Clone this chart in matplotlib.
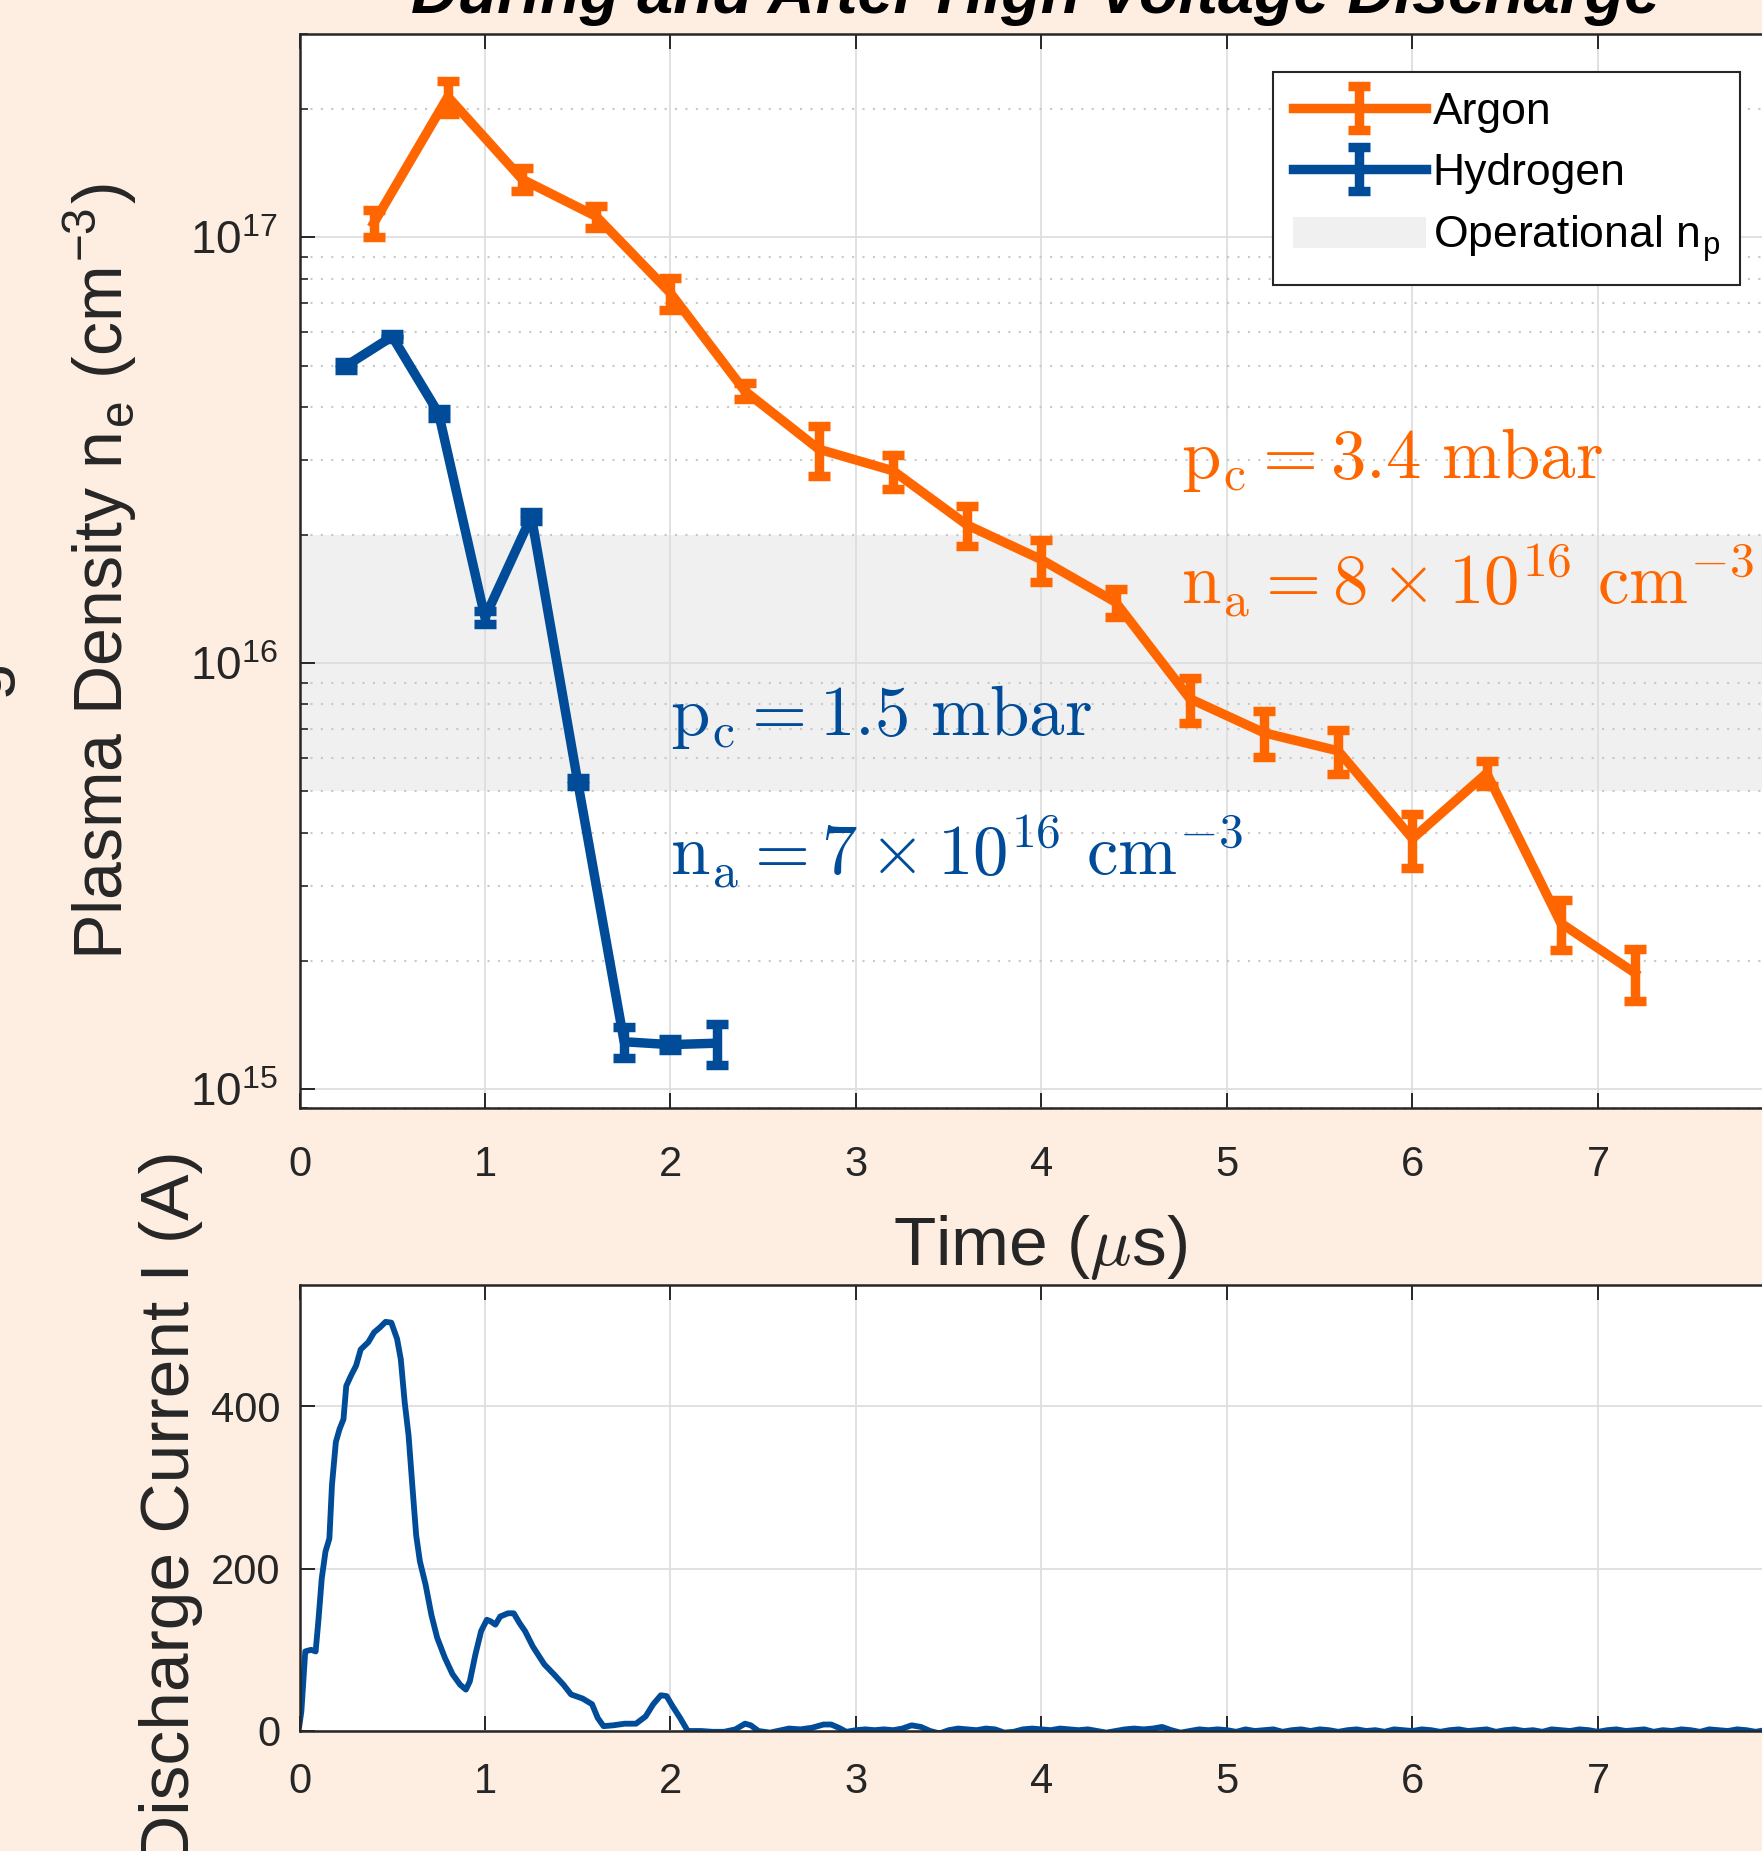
import numpy as np
import matplotlib
matplotlib.use('Agg')
import matplotlib.pyplot as plt
from matplotlib.ticker import LogLocator, NullFormatter

plt.rcParams['font.family'] = ['Liberation Sans', 'DejaVu Sans']
plt.rcParams['mathtext.fontset'] = 'cm'

# Argon density (cm^-3) with error bars
ar_t = [0.4, 0.8, 1.2, 1.6, 2.0, 2.4, 2.8, 3.2, 3.6, 4.0, 4.4, 4.8, 5.2, 5.6, 6.0, 6.4, 6.8, 7.2]
ar_n = [1.08e17, 2.14e17, 1.37e17, 1.12e17, 7.40e16, 4.36e16, 3.18e16, 2.83e16, 2.11e16,
        1.75e16, 1.39e16, 8.25e15, 6.86e15, 6.22e15, 3.87e15, 5.51e15, 2.45e15, 1.87e15]
ar_err = [7.7e15, 1.9e16, 8.6e15, 6.7e15, 6.3e15, 1.8e15, 4.3e15, 2.6e15, 2.3e15,
          2.0e15, 1.04e15, 1.0e15, 8.5e14, 7.3e14, 5.6e14, 3.7e14, 3.3e14, 2.6e14]

# Hydrogen density
h_t = [0.25, 0.5, 0.75, 1.0, 1.25, 1.5, 1.75, 2.0, 2.25]
h_n = [4.99e16, 5.85e16, 3.86e16, 1.28e16, 2.21e16, 5.26e15, 1.29e15, 1.27e15, 1.28e15]
h_err = [1.0e15, 7.6e14, 9.0e14, 4.7e14, 5.0e14, 1.2e14, 1.07e14, 3.6e13, 1.4e14]

# operational plasma density band
band_lo = 5e15
band_hi = 2e16

# discharge current (A)
cur_t_head = [0.0, 0.01, 0.031, 0.062, 0.087, 0.103, 0.12, 0.14, 0.161, 0.175, 0.196, 0.216,
              0.237, 0.252, 0.278, 0.305, 0.33, 0.371, 0.402, 0.433, 0.464, 0.495, 0.526,
              0.546, 0.567, 0.588, 0.608, 0.629, 0.649, 0.68, 0.711, 0.742, 0.784, 0.825,
              0.866, 0.897, 0.918, 0.948, 0.979, 1.01, 1.031, 1.056, 1.082, 1.124, 1.155,
              1.186, 1.216, 1.258, 1.32, 1.371, 1.423, 1.464, 1.526, 1.577, 1.608, 1.639,
              1.691, 1.753, 1.814, 1.866, 1.907, 1.948, 1.979, 2.01, 2.052, 2.093, 2.165,
              2.227, 2.289, 2.35, 2.402, 2.433, 2.474, 2.536, 2.598, 2.639, 2.701, 2.763,
              2.825, 2.866, 2.907, 2.948]
cur_i_head = [8, 24, 98, 100, 98, 139, 188, 221, 237, 303, 356, 372, 384, 425, 438, 450, 470,
              479, 491, 497, 504, 503, 483, 458, 405, 364, 303, 241, 209, 180, 143, 115, 90,
              70, 57, 51, 61, 94, 123, 137, 135, 131, 141, 145, 145, 133, 123, 104, 82, 70,
              57, 45, 40, 33, 16, 6, 7, 9, 9, 18, 33, 44, 43, 31, 16, 0, 0, -1, -1, 2, 9, 7,
              0, -2, 1, 3, 2, 4, 8, 8, 4, -1]
# tail samples every 0.05 us from 3.0 us
cur_i_tail = [1, 2, 1, 2, 1, 3, 7, 5, 0, -3,
              1, 3, 2, 1, 3, 2, -2, -1, 2, 3,
              2, 1, 3, 2, 1, 2, 0, -2, 0, 2,
              3, 2, 3, 5, 1, -2, 0, 2, 1, 2,
              1, -1, 2, 0, 1, 2, -1, 1, 2, 0,
              2, 1, -1, 1, 2, 0, 1, -1, 2, 1,
              0, 2, 1, -1, 1, 2, 0, 1, 2, -1,
              1, 2, 0, 1, -1, 2, 1, 0, 2, 1,
              -1, 1, 2, 0, 1, 2, -1, 1, 0, 2,
              1, -1, 2, 1, 0, 2, 1, -1, 1, 2, 0]
cur_t_tail = 3.0 + 0.05 * np.arange(len(cur_i_tail))
cur_t = np.concatenate([cur_t_head, cur_t_tail])
cur_i = np.concatenate([cur_i_head, cur_i_tail])

xticks = [0, 1, 2, 3, 4, 5, 6, 7]

orange = '#FF6600'
blue = '#004C99'
dark = '#262626'
bg = '#FDEEE1'

fig = plt.figure(figsize=(17.62, 18.51), dpi=100, facecolor=bg)
ax1 = fig.add_axes([0.16998, 0.40124, 0.8422, 0.58023])
ax2 = fig.add_axes([0.16998, 0.06483, 0.8422, 0.24122])

lw = 6.8
band = ax1.axhspan(band_lo, band_hi, facecolor='#F0F0F0', edgecolor='none', zorder=0.3)
h_ar = ax1.errorbar(ar_t, ar_n, yerr=ar_err, color=orange, lw=lw, elinewidth=lw,
                    capsize=8, capthick=lw, zorder=3)
h_h = ax1.errorbar(h_t, h_n, yerr=h_err, color=blue, lw=lw, elinewidth=lw,
                   capsize=8, capthick=lw, zorder=3)

ax1.set_yscale('log')
ax1.set_xlim(0, 8)
ax1.set_ylim(9e14, 3e17)
ax1.set_xticks(xticks)
ax1.yaxis.set_major_locator(LogLocator(base=10, numticks=10))
ax1.yaxis.set_minor_locator(LogLocator(base=10, subs=np.arange(2, 10), numticks=30))
ax1.yaxis.set_minor_formatter(NullFormatter())
ax1.set_axisbelow(True)
ax1.grid(True, which='major', color='#DEDEDE', lw=1.3)
ax1.grid(True, which='minor', axis='y', color='#C8C8C8', lw=1.5, ls=(0, (1, 4)))

for ax in (ax1, ax2):
    ax.set_facecolor('white')
    ax.tick_params(which='both', direction='in', top=True, right=True, colors=dark,
                   labelsize=30)
    ax.tick_params(which='major', length=10.8, width=1.4)
    ax.tick_params(which='minor', length=5.5, width=1.2)
    for s in ax.spines.values():
        s.set_color(dark)
        s.set_linewidth(1.8)

ax1.tick_params(axis='x', pad=26.5)
ax1.tick_params(axis='y', pad=15.5, labelsize=33)

ax1.text(4.75, 2.72e16, r'$\mathrm{p_c} = 3.4\ \mathrm{mbar}$', color=orange, fontsize=51,
         va='baseline')
ax1.text(4.75, 1.374e16, r'$\mathrm{n_a} = 8\times10^{16}\ \mathrm{cm}^{-3}$', color=orange,
         fontsize=51, va='baseline')
ax1.text(2.0, 6.78e15, r'$\mathrm{p_c} = 1.5\ \mathrm{mbar}$', color=blue, fontsize=51,
         va='baseline')
ax1.text(2.0, 3.18e15, r'$\mathrm{n_a} = 7\times10^{16}\ \mathrm{cm}^{-3}$', color=blue,
         fontsize=51, va='baseline')

ax1.set_xlabel(r'Time ($\mu$s)', fontsize=50, color=dark)
ax1.xaxis.set_label_coords(0.499, -0.1459)
ax1.xaxis.label.set_verticalalignment('baseline')
ax1.set_ylabel(r'Plasma Density n$_\mathregular{e}$ (cm$^\mathregular{-3}$)', fontsize=49,
               color=dark)
ax1.yaxis.set_label_coords(-0.1189, 0.5)
ax1.yaxis.label.set_verticalalignment('baseline')

leg = ax1.legend(handles=[h_ar, h_h, band],
                 labels=['Argon', 'Hydrogen', r'Operational n$_\mathregular{p}$'],
                 loc='upper left', bbox_to_anchor=(1272.7 / 1762, 1 - 71.7 / 1851),
                 bbox_transform=fig.transFigure, borderaxespad=0, fontsize=32,
                 fancybox=False, edgecolor=dark, framealpha=1, handlelength=3.0,
                 handletextpad=0.15, labelspacing=0.45, borderpad=0.45)
leg.get_frame().set_linewidth(1.5)
for t in leg.get_texts():
    t.set_color('black')

# current trace
ax2.plot(cur_t, cur_i, color=blue, lw=4.2)
ax2.set_xlim(0, 8)
ax2.set_ylim(0, 550)
ax2.set_xticks(xticks)
ax2.set_yticks([0, 200, 400])
ax2.grid(True, color='#DEDEDE', lw=1.3)
ax2.set_axisbelow(True)
ax2.tick_params(axis='x', pad=22)
ax2.tick_params(axis='y', pad=14)
ax2.set_ylabel('Discharge Current I (A)', fontsize=50, color=dark)
ax2.yaxis.set_label_coords(-0.0745, 0.5)
ax2.yaxis.label.set_verticalalignment('baseline')

fig.text(1035.6 / 1762, 1 - 13 / 1851, 'During and After High Voltage Discharge',
         ha='center', va='baseline', fontsize=46.5, style='italic', fontweight='bold',
         color='black')
fig.text(-1 / 1762, 1 - 698 / 1851, 'g', rotation=90, rotation_mode='anchor', ha='left',
         va='baseline', fontsize=50, color=dark)

fig.savefig('out.png', dpi=100, facecolor=bg)
